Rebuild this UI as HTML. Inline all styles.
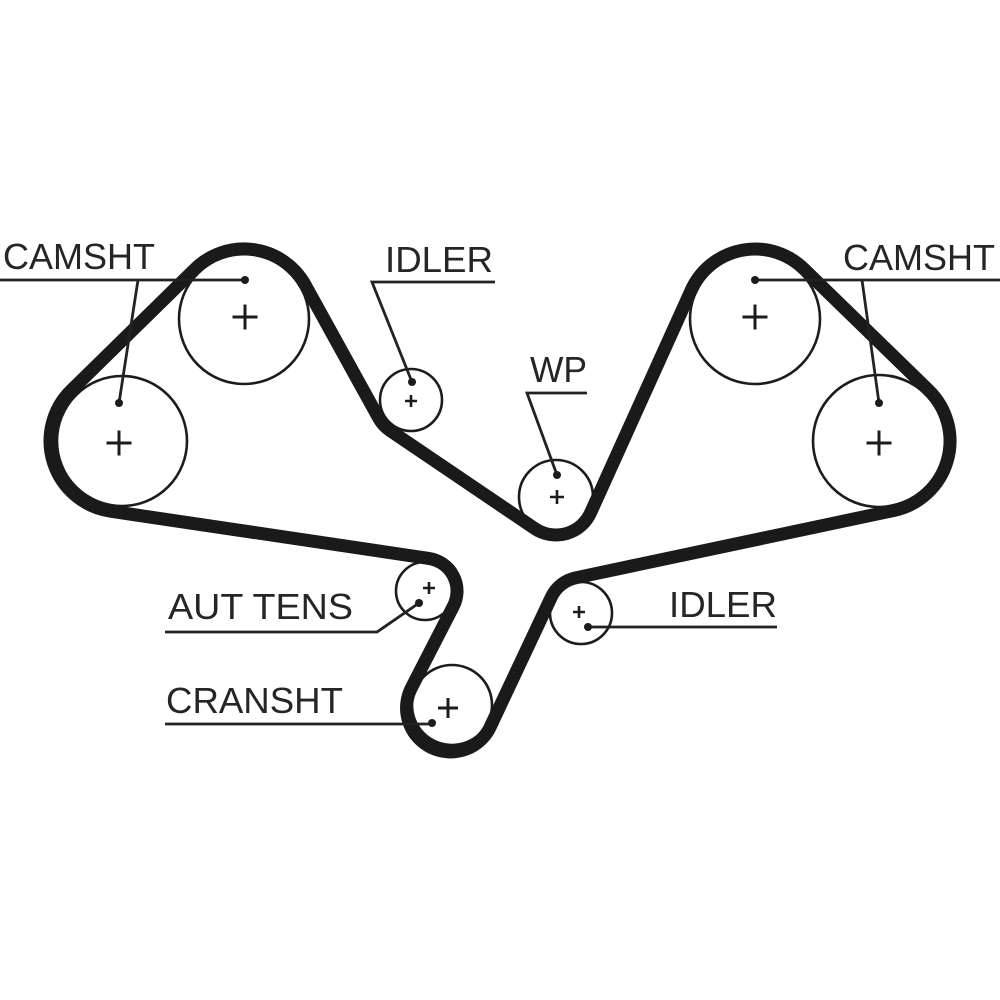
<!DOCTYPE html>
<html>
<head>
<meta charset="utf-8">
<style>
  html, body { margin: 0; padding: 0; background: #ffffff; }
  svg { display: block; }
  text { font-family: "Liberation Sans", Arial, sans-serif; font-size: 36px; fill: #252525; }
</style>
</head>
<body>
<svg width="1000" height="1000" viewBox="0 0 1000 1000" xmlns="http://www.w3.org/2000/svg">
  <rect width="1000" height="1000" fill="#ffffff"/>

  <!-- pulleys -->
  <g fill="none" stroke="#1c1c1c" stroke-width="2.6">
    <circle cx="244" cy="319" r="65"/>
    <circle cx="122" cy="441" r="65"/>
    <circle cx="755" cy="319" r="65"/>
    <circle cx="879" cy="441" r="66"/>
    <circle cx="411" cy="400" r="31"/>
    <circle cx="556" cy="497" r="37"/>
    <circle cx="425" cy="591" r="29"/>
    <circle cx="581" cy="613" r="31"/>
    <circle cx="452" cy="705" r="40"/>
  </g>

  <!-- belt -->
  <path fill="none" stroke="#1a1a1a" stroke-width="13" stroke-linejoin="round"
    d="M 195.0 269.0
       A 70 70 0 0 1 305.3 285.1
       L 378.6 417.9
       A 37 37 0 0 0 390.2 430.6
       L 534.7 528.5
       A 38 38 0 0 0 590.6 512.7
       L 691.2 290.2
       A 70 70 0 0 1 803.8 268.8
       L 928.5 390.1
       A 71 71 0 0 1 893.7 510.5
       L 575.8 577.8
       A 35 35 0 0 0 551.3 597.1
       L 490.8 725.7
       A 44 44 0 1 1 411.9 686.9
       L 453.4 606.1
       A 33 33 0 0 0 428.8 558.4
       L 110.6 511.2
       A 71 71 0 0 1 71.3 390.3
       Z"/>

  <!-- plus signs -->
  <g stroke="#1c1c1c" stroke-width="3" fill="none">
    <path d="M232.5 317 h25 M245 304.5 v25"/>
    <path d="M106.5 443 h25 M119 430.5 v25"/>
    <path d="M742.5 317 h25 M755 304.5 v25"/>
    <path d="M866.5 443 h25 M879 430.5 v25"/>
    <path d="M438 708 h20 M448 698 v20"/>
  </g>
  <g stroke="#1c1c1c" stroke-width="2.6" fill="none">
    <path d="M405 401 h12 M411 395 v12"/>
    <path d="M550 497 h14 M557 490 v14"/>
    <path d="M423 588 h12 M429 582 v12"/>
    <path d="M573 612 h12 M579 606 v12"/>
  </g>

  <!-- leaders -->
  <g stroke="#222" stroke-width="2.8" fill="none" stroke-linejoin="miter">
    <path d="M0 280 H245"/>
    <path d="M138 280 L119 403"/>
    <path d="M495 282 H372 L412 382"/>
    <path d="M587 393 H527 L557 475"/>
    <path d="M755 280 H1000"/>
    <path d="M862 280 L879 403"/>
    <path d="M165 632 H377 L419 603"/>
    <path d="M165 724 H432"/>
    <path d="M588 627 H777"/>
  </g>
  <g fill="#1c1c1c">
    <circle cx="245" cy="280" r="4"/>
    <circle cx="119" cy="403" r="4"/>
    <circle cx="412" cy="382" r="4"/>
    <circle cx="557" cy="475" r="4"/>
    <circle cx="755" cy="280" r="4"/>
    <circle cx="879" cy="403" r="4"/>
    <circle cx="419" cy="603" r="4"/>
    <circle cx="432" cy="723" r="4"/>
    <circle cx="588" cy="627" r="4"/>
  </g>

  <!-- labels -->
  <text x="3" y="269" textLength="152" lengthAdjust="spacingAndGlyphs">CAMSHT</text>
  <text x="385" y="272" textLength="108" lengthAdjust="spacingAndGlyphs">IDLER</text>
  <text x="530" y="382" textLength="57" lengthAdjust="spacingAndGlyphs">WP</text>
  <text x="843" y="270" textLength="152" lengthAdjust="spacingAndGlyphs">CAMSHT</text>
  <text x="168" y="619" textLength="185" lengthAdjust="spacingAndGlyphs">AUT TENS</text>
  <text x="166" y="713" textLength="177" lengthAdjust="spacingAndGlyphs">CRANSHT</text>
  <text x="669" y="617" textLength="108" lengthAdjust="spacingAndGlyphs">IDLER</text>
</svg>
</body>
</html>
